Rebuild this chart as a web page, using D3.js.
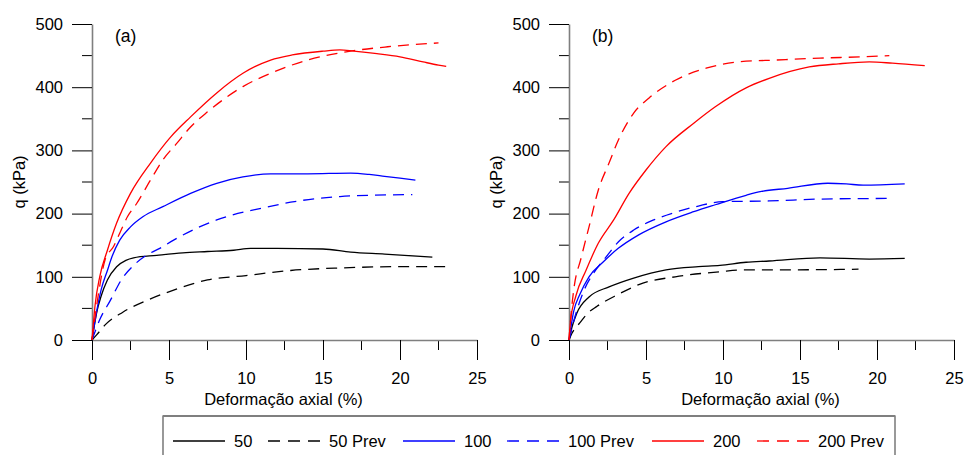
<!DOCTYPE html>
<html><head><meta charset="utf-8">
<script src="https://cdn.jsdelivr.net/npm/d3@7"></script>
<style>body{margin:0;background:#fff}svg{display:block;font-family:"Liberation Sans",Arial,sans-serif}</style>
</head><body>
<svg id="c" width="964" height="455"></svg>
<script>
// ---------- data ----------
const xTicks = [0, 5, 10, 15, 20, 25];
const yTicks = [0, 100, 200, 300, 400, 500];
const xTitle = "Deformação axial (%)";
const yTitle = "q (kPa)";
const panelLabels = ["(a)", "(b)"];
const seriesNames = ["50", "50 Prev", "100", "100 Prev", "200", "200 Prev"];
const seriesColors = ["#000000", "#000000", "#0000ff", "#0000ff", "#ff0000", "#ff0000"];
const seriesDashed = [false, true, false, true, false, true];

// panel (a)
const a50 = [[0,0],[0.3,43],[0.6,70],[1,95],[1.6,116],[2.2,126],[2.7,130],[4.2,134],[5.9,138],[7.5,140],[9.2,142],[10.3,145],[12,145],[15,144],[16.8,139],[19,136],[22.1,131]];
const a50p = [[0,0],[0.3,8],[0.85,24],[2,44],[3.6,63],[5.3,79],[7.5,95],[10,102],[12.9,110],[16.1,114],[20,116],[23.1,116]];
const a100 = [[0,0],[0.3,45],[0.6,80],[1,110],[1.3,132],[1.8,158],[2.5,179],[3.3,195],[4.6,211],[6.4,232],[8.1,248],[9.8,258],[11.6,263],[14,263],[16.8,264],[18,262],[19,259],[21,253]];
const a100p = [[0,0],[0.5,32],[1.2,63],[1.9,95],[2.7,118],[3.6,135],[4.4,145],[5.3,158],[6.8,177],[8.1,190],[9,197],[11.1,209],[12.9,218],[16.1,227],[18,229],[20.8,230]];
const a200 = [[0,0],[0.2,55],[0.5,100],[1,142],[1.6,185],[2.5,232],[3.8,280],[5.1,321],[6.4,353],[8.1,391],[9.8,422],[11.6,443],[13,451],[15,457],[16.1,459],[17,457],[18.5,453],[20,448],[21.5,440],[22.5,435],[23,433]];
const a200p = [[0,0],[0.4,70],[0.85,127],[1.4,148],[1.8,169],[2.3,195],[2.9,216],[3.8,253],[4.6,285],[5.5,311],[6.4,337],[7.5,361],[8.5,380],[9.8,401],[11.6,422],[14,443],[16.5,456],[19.2,464],[22.5,470]];
// panel (b)
const b50 = [[0,0],[0.2,21],[0.5,42],[1.3,68],[2.6,84],[4.2,98],[6.3,111],[8.4,116],[9.8,118],[11.5,123],[13,125],[16.3,130],[19.5,128],[21.8,129]];
const b50p = [[0,0],[0.2,11],[0.7,27],[1.2,42],[1.8,53],[3.1,71],[4.8,90],[6.9,100],[9.8,108],[11.5,111],[14.2,111],[18.8,112]];
const b100 = [[0,0],[0.3,45],[0.7,72],[1.3,100],[2.2,123],[3.2,145],[4.5,166],[6.3,187],[8.1,203],[9.5,214],[11.5,229],[12.5,235],[14.2,240],[16.8,248],[18,247],[19.1,245],[21.8,247]];
const b100p = [[0,0],[0.4,38],[1,80],[1.6,106],[2.4,131],[3.2,155],[4.2,174],[5.5,190],[6.9,202],[8.4,212],[10,219],[13,220],[16.3,223],[20.8,224]];
const b200 = [[0,0],[0.1,30],[0.45,70],[1.1,110],[1.9,153],[2.9,190],[3.9,232],[5,269],[6.3,306],[8.1,343],[9.5,369],[11.5,399],[13,414],[15.6,432],[17.5,437],[19.5,440],[21,438],[23.1,434]];
const b200p = [[0,0],[0.15,45],[0.3,78],[0.8,131],[1.3,179],[1.9,237],[2.6,280],[3.2,316],[4.2,359],[5.2,383],[6.9,411],[8.9,430],[11,440],[13.5,443],[16.3,446],[18.9,448],[20.8,450]];

const panelA = [a50, a50p, a100, a100p, a200, a200p];
const panelB = [b50, b50p, b100, b100p, b200, b200p];

// ---------- layout ----------
const svg = d3.select("#c");
const dash = "11,7";
const fs = 16.5;
const panels = [
  {data: panelA, x0: 92, label: panelLabels[0]},
  {data: panelB, x0: 569, label: panelLabels[1]}
];
const plotW = 385, yTop = 24, yBot = 340;

panels.forEach(p => {
  const x = d3.scaleLinear().domain([0, 25]).range([p.x0, p.x0 + plotW]);
  const y = d3.scaleLinear().domain([0, 500]).range([yBot, yTop]);
  const g = svg.append("g");

  // minor ticks
  const minorY = d3.range(50, 500, 100);
  const minorX = d3.range(2.5, 25, 5);
  g.selectAll(".my").data(minorY).join("line")
    .attr("x1", p.x0 - 10).attr("x2", p.x0).attr("y1", d => y(d)).attr("y2", d => y(d))
    .attr("stroke", "#000").attr("stroke-width", 1);
  g.selectAll(".mx").data(minorX).join("line")
    .attr("x1", d => x(d)).attr("x2", d => x(d)).attr("y1", yBot).attr("y2", yBot + 10)
    .attr("stroke", "#000").attr("stroke-width", 1);

  // major axes
  const ya = g.append("g").attr("transform", `translate(${p.x0},0)`)
    .call(d3.axisLeft(y).tickValues(yTicks).tickSize(20).tickSizeOuter(0).tickPadding(9));
  const xa = g.append("g").attr("transform", `translate(0,${yBot})`)
    .call(d3.axisBottom(x).tickValues(xTicks).tickSize(20).tickSizeOuter(0).tickPadding(12));
  [ya, xa].forEach(a => {
    a.select(".domain").attr("stroke", "#7f7f7f").attr("stroke-width", 1.6);
    a.selectAll(".tick line").attr("stroke", "#000");
    a.selectAll(".tick text").attr("font-size", fs).attr("fill", "#000")
      .attr("font-family", '"Liberation Sans", Arial, sans-serif');
  });

  // titles
  g.append("text").attr("x", (p.x0 + p.x0 + plotW) / 2 - 1).attr("y", 405)
    .attr("text-anchor", "middle").attr("font-size", fs).text(xTitle);
  g.append("text").attr("transform", `translate(${p.x0 - 67},${(yTop + yBot) / 2}) rotate(-90)`)
    .attr("text-anchor", "middle").attr("font-size", fs).text(yTitle);
  g.append("text").attr("x", p.x0 + 23).attr("y", 42).attr("font-size", 17.5).text(p.label);

  // series
  const line = d3.line().x(d => x(d[0])).y(d => y(d[1])).curve(d3.curveMonotoneX);
  p.data.forEach((s, i) => {
    g.append("path").datum(s).attr("d", line).attr("fill", "none")
      .attr("stroke", seriesColors[i]).attr("stroke-width", 1.3)
      .attr("stroke-dasharray", seriesDashed[i] ? dash : null);
  });
});

// ---------- legend ----------
const lg = svg.append("g");
lg.append("rect").attr("x", 163).attr("y", 416).attr("width", 732).attr("height", 50)
  .attr("fill", "#fff").attr("stroke", "#555").attr("stroke-width", 1.2);
lg.append("line").attr("x1", 163).attr("x2", 895).attr("y1", 416).attr("y2", 416)
  .attr("stroke", "#7f7f7f").attr("stroke-width", 2);
const legX = [173, 268, 403, 507, 652, 757];
seriesNames.forEach((n, i) => {
  lg.append("line").attr("x1", legX[i]).attr("x2", legX[i] + 52).attr("y1", 441).attr("y2", 441)
    .attr("stroke", seriesColors[i]).attr("stroke-width", 1.3)
    .attr("stroke-dasharray", seriesDashed[i] ? "12,8" : null);
  lg.append("text").attr("x", legX[i] + 61).attr("y", 447).attr("font-size", fs).text(n);
});
</script>
</body></html>
